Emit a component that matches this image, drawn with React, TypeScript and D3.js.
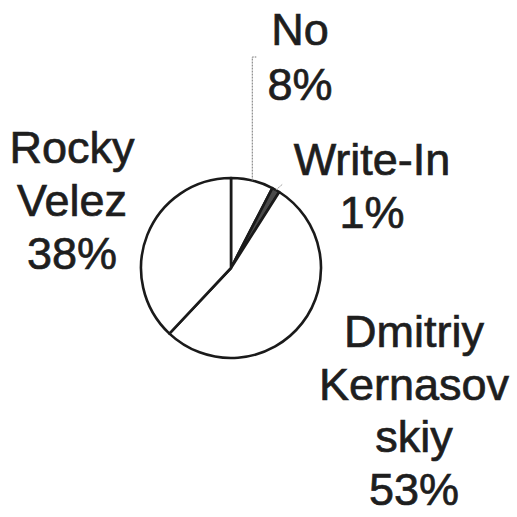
import React from "react";
import * as d3 from "d3";

const categories = ["No", "Write-In", "Dmitriy Kernasovskiy", "Rocky Velez"];
const values = [7.6, 1.4, 53, 38];
const labelLines = [["No"], ["Write-In"], ["Dmitriy", "Kernasov", "skiy"], ["Rocky", "Velez"]];
const fills = ["#ffffff", "#4a4a4a", "#ffffff", "#ffffff"];

const W = 517;
const H = 517;
const cx = 231;
const cy = 268;
const R = 90;
const FONT = "'Liberation Sans', Arial, sans-serif";

// label anchor (center x, first baseline y, line spacing)
const labelPos = [
  { x: 300, y: 45, dy: 55 },
  { x: 372, y: 175, dy: 53 },
  { x: 414, y: 347, dy: 52.5 },
  { x: 72, y: 163, dy: 53 },
];

export default function App() {
  const total = d3.sum(values);
  const pie = d3
    .pie<number>()
    .sort(null)
    .startAngle(0)
    .endAngle(2 * Math.PI)
    .value((d) => d);
  const arcs = pie(values);
  const arc = d3.arc<d3.PieArcDatum<number>>().innerRadius(0).outerRadius(R);

  const edge = (a: number, r: number) => [cx + r * Math.sin(a), cy - r * Math.cos(a)];
  const mid = (d: d3.PieArcDatum<number>) => (d.startAngle + d.endAngle) / 2;

  const noEdge = edge(mid(arcs[0]), R);
  const wiEdge = edge(mid(arcs[1]), R);

  return (
    <svg width={W} height={H} style={{ position: "absolute", left: 0, top: 0, background: "#fff" }}>
      <rect width={W} height={H} fill="#fff" />
      <g transform={`translate(${cx},${cy})`}>
        {arcs.map((d, i) => (
          <path key={categories[i]} d={arc(d) || ""} fill={fills[i]} stroke="#1a1a1a" strokeWidth={2.6} strokeLinejoin="round" />
        ))}
      </g>
      {/* leader lines */}
      <path
        d={`M${noEdge[0]},${noEdge[1]} L${noEdge[0]},57 L${noEdge[0] + 4},57`}
        fill="none"
        stroke="#777"
        strokeWidth={1}
        strokeDasharray="2,1"
      />
      <path
        d={`M${wiEdge[0]},${wiEdge[1]} L${wiEdge[0] + 7},${wiEdge[1] - 6}`}
        fill="none"
        stroke="#999"
        strokeWidth={1}
        strokeDasharray="2,1"
      />
      {arcs.map((d, i) => {
        const p = labelPos[i];
        const lines = [...labelLines[i], `${Math.round((values[i] / total) * 100)}%`];
        return (
          <text
            key={"t" + i}
            textAnchor="middle"
            fontFamily={FONT}
            fontSize={45}
            fill="#1e1e1e"
            stroke="#1e1e1e"
            strokeWidth={0.7}
          >
            {lines.map((l, j) => (
              <tspan key={j} x={p.x} y={p.y + j * p.dy}>
                {l}
              </tspan>
            ))}
          </text>
        );
      })}
    </svg>
  );
}
